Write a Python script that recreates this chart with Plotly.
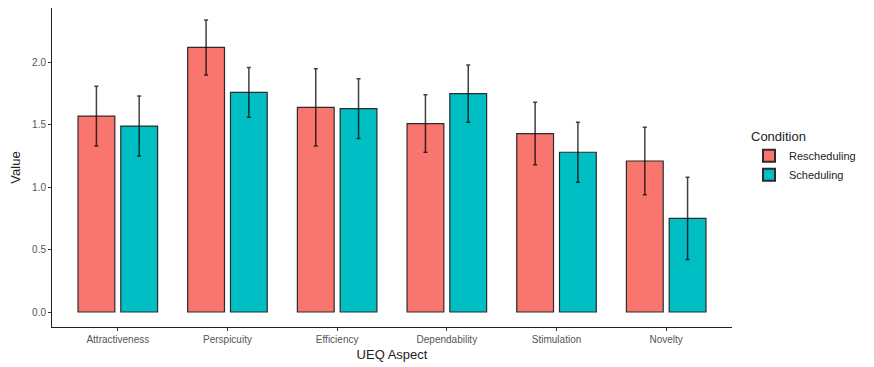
import plotly.graph_objects as go

aspects = ["Attractiveness", "Perspicuity", "Efficiency", "Dependability", "Stimulation", "Novelty"]
resched_vals = [1.57, 2.12, 1.64, 1.51, 1.43, 1.21]
resched_err = [0.24, 0.22, 0.31, 0.23, 0.25, 0.27]
sched_vals = [1.49, 1.76, 1.63, 1.75, 1.28, 0.75]
sched_err = [0.24, 0.20, 0.24, 0.23, 0.24, 0.33]
y_ticks = [0.0, 0.5, 1.0, 1.5, 2.0]

def bar(name, vals, errs, color):
    return go.Bar(
        name=name, x=aspects, y=vals,
        marker=dict(color=color, line=dict(color="#2b2b2b", width=1.2)),
        error_y=dict(type="data", array=errs, visible=True,
                     color="rgba(0,0,0,0.75)", thickness=1.5, width=2),
    )

fig = go.Figure([
    bar("Rescheduling", resched_vals, resched_err, "#F8766D"),
    bar("Scheduling", sched_vals, sched_err, "#00BFC4"),
])

fig.update_layout(
    width=866, height=359,
    margin=dict(l=44, r=142, t=0, b=40, autoexpand=False),
    paper_bgcolor="white", plot_bgcolor="white",
    barmode="group", bargap=0.22, bargroupgap=0.14,
    font=dict(family="Liberation Sans, Arial, sans-serif", color="#222"),
    legend=dict(
        title=dict(text="Condition", font=dict(size=13, color="#222")),
        font=dict(size=11, color="#222"),
        x=1.025, y=0.635, xanchor="left", yanchor="top",
        traceorder="normal", itemsizing="constant",
    ),
    showlegend=True,
)
fig.update_xaxes(
    range=[-0.6, 5.6],
    showline=True, linecolor="#222", linewidth=1,
    ticks="outside", ticklen=3, tickcolor="#333",
    tickfont=dict(size=10, color="#555"),
    title=dict(text="UEQ Aspect", font=dict(size=13, color="#222"), standoff=5),
    showgrid=False,
)
fig.update_yaxes(
    range=[-0.12, 2.436],
    tickvals=y_ticks, ticktext=[f"{v:.1f}" for v in y_ticks],
    showline=True, linecolor="#222", linewidth=1,
    ticks="outside", ticklen=3, tickcolor="#333",
    tickfont=dict(size=10, color="#555"),
    title=dict(text="Value", font=dict(size=13, color="#222"), standoff=8),
    showgrid=False, zeroline=False,
)

fig.write_html("out.html")
